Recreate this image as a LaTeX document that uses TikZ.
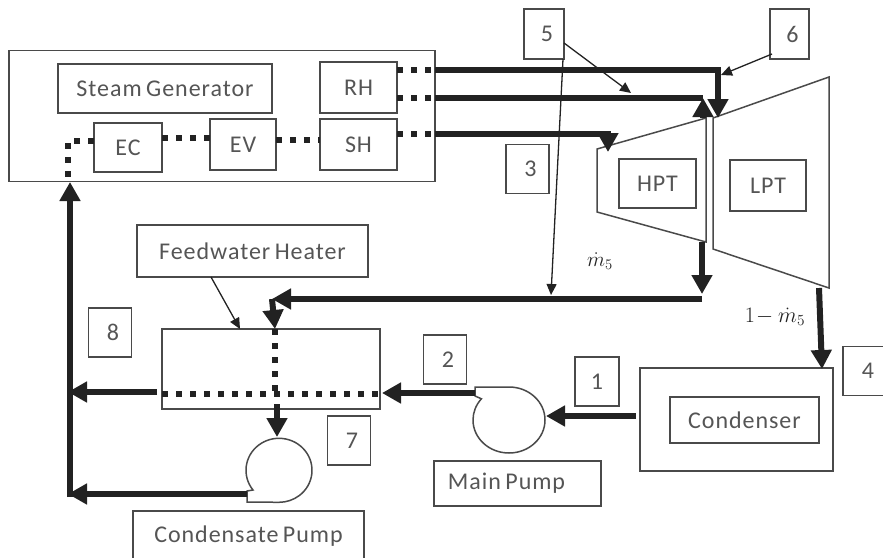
\documentclass[tikz,border=0pt]{standalone}
\usepackage{amsmath}
\usepackage{fix-cm}
\usepackage{fontspec}
\setmainfont[LetterSpace=4,WordSpace=0.7]{Carlito}
\usetikzlibrary{arrows.meta,positioning,calc}
\definecolor{partgray}{HTML}{4A4A4A}
\definecolor{textgray}{HTML}{555555}
\definecolor{pipeblack}{HTML}{222222}
\tikzset{
  part/.style={draw=partgray, line width=1.5pt},
  box/.style={part, fill=white, inner sep=0pt, outer sep=0pt, text=textgray, font=\fontsize{24}{26}\selectfont},
  tag/.style={box, minimum width=43pt, minimum height=49pt, execute at begin node={\hspace*{6pt}}},
  pipe/.style={draw=pipeblack, line width=6pt},
  flow/.style={pipe, -{Triangle[length=19pt,width=20pt]}},
  water/.style={draw=pipeblack, line width=6pt, dash pattern=on 6pt off 8pt},
  note/.style={draw=pipeblack, line width=1.3pt, -{Triangle[length=11pt,width=10pt]}}
}
\begin{document}
\begin{tikzpicture}[x=1pt, y=-1pt]
\useasboundingbox (0,0) rectangle (883,557);
\node[box, minimum width=426pt, minimum height=131pt] (boiler) at (222,116) {};
\node[box, minimum width=214pt, minimum height=49pt] (sg) at (165,88.5) {Steam Generator};
\node[box, minimum width=77pt, minimum height=51pt] (rh) at (358.5,87.5) {RH};
\node[box, minimum width=77pt, minimum height=51pt] (sh) at (358.5,144.5) {SH};
\node[box, minimum width=66pt, minimum height=51pt] (ev) at (243,144.5) {EV};
\node[box, minimum width=68pt, minimum height=49pt] (ec) at (128,147.5) {EC};
\draw[part] (597,149) -- (706,118) -- (706,242) -- (597,212) -- cycle;
\draw[part] (713,118) -- (829,77) -- (829,288) -- (713,249) -- cycle;
\node[box, minimum width=77pt, minimum height=49pt] (hpt) at (657.5,183.5) {HPT};
\node[box, minimum width=76pt, minimum height=51pt] (lpt) at (768,185.5) {LPT};
\node[box, minimum width=231pt, minimum height=52pt] (fwlabel) at (252.5,251) {Feedwater Heater};
\node[box, minimum width=218pt, minimum height=80pt] (heater) at (271,369) {};
\node[box, minimum width=193pt, minimum height=103pt] (cond) at (736.5,419.5) {};
\node[box, minimum width=149pt, minimum height=46pt] (condlabel) at (744.5,420) {Condenser};
\node[box, minimum width=167pt, minimum height=45pt] (mplabel) at (517.5,483.5) {\hspace*{-22pt}Main Pump};
\node[box, minimum width=231pt, minimum height=50pt] (cplabel) at (248.5,536) {Condensate Pump};
\node[tag, minimum width=44pt] (n1) at (597,381.5) {\hspace*{-6pt}1};
\node[tag] (n2) at (445,359.5) {2};
\node[tag] (n3) at (527.5,169) {3};
\node[tag, minimum width=44pt] (n4) at (865,371) {4};
\node[tag, minimum width=40pt, minimum height=50pt] (n5) at (544,34) {5};
\node[tag, minimum width=39pt, minimum height=50pt] (n6) at (789.5,34) {6};
\node[tag, minimum height=49pt] (n7) at (349,440.5) {7};
\node[tag] (n8) at (110,332.5) {8};
\node[text=pipeblack, inner sep=0pt, font=\fontsize{21}{23}\selectfont] (mfive) at (600,261) {$\dot m_5$};
\node[text=pipeblack, inner sep=0pt, font=\fontsize{22}{24}\selectfont] (mrest) at (775,317) {$1\!-\dot m_5$};
\draw[part, fill=white] (475,387) -- (509,387) arc[start angle=90, end angle=-220, x radius=36pt, y radius=33pt] -- (475,396) -- cycle;
\draw[part, fill=white] (247,491) -- (253,490) arc[start angle=218, end angle=-90, x radius=33pt, y radius=32pt] -- (247,502) -- cycle;
\coordinate (rhtop) at (397,70);
\coordinate (rhlow) at (397,98);
\coordinate (shout) at (397,134);
\coordinate (walltop) at (435,70);
\coordinate (walllow) at (435,98);
\coordinate (wallsh) at (435,134);
\coordinate (lptturn) at (718,70);
\coordinate (lptin) at (718,118);
\coordinate (hptturn) at (703,98);
\coordinate (hptfoot) at (703,118);
\coordinate (shturn) at (608,134);
\coordinate (hptin) at (608,152);
\coordinate (bleed) at (702,242);
\coordinate (bleedend) at (702,294);
\coordinate (bleedcorner) at (702,299);
\coordinate (fwhin) at (272,299);
\coordinate (fwhtop) at (275,329);
\coordinate (fwhmid) at (275,394);
\coordinate (fwhleft) at (162,394);
\coordinate (fwhright) at (380,394);
\coordinate (lptout) at (819,288);
\coordinate (condin) at (822,369);
\coordinate (condout) at (636,416);
\coordinate (mpin) at (546,416);
\coordinate (mpout) at (475,393);
\coordinate (fwhin2) at (382,393);
\coordinate (fwhout) at (157,392);
\coordinate (maintee) at (68,392);
\coordinate (cpin) at (277,437);
\coordinate (fwhdrop) at (277,404);
\coordinate (cpout) at (247,494);
\coordinate (cptee) at (68,494);
\coordinate (mainfoot) at (70,497);
\coordinate (boilerin) at (70,182);
\coordinate (ecbend) at (68,141);
\coordinate (ecin) at (94,141);
\draw[water] (rhtop) -- (walltop);
\draw[water] (rhlow) -- (walllow);
\draw[water] (shout) -- (wallsh);
\draw[water] (ec.east |- 0,138) -- (ev.west |- 0,138);
\draw[water] (ev.east |- 0,140) -- (sh.west |- 0,140);
\draw[water] (ecin) -- (ecbend) -- (ecbend |- boilerin);
\draw[water] (fwhleft) -- (fwhright);
\draw[water] (fwhtop) -- (fwhmid);
\draw[pipe] (walltop) -- (lptturn);
\draw[flow] (lptturn) ++(0,-3) -- (lptin);
\draw[pipe] (walllow) -- (hptturn);
\draw[flow] (hptfoot) -- (hptturn);
\draw[pipe] (wallsh) -- (shturn);
\draw[flow] (shturn) ++(0,-3) -- (hptin);
\draw[flow] (bleed) -- (bleedend);
\draw[flow] (bleedcorner) -- (fwhin);
\draw[flow] (fwhin) -- (fwhtop);
\draw[flow] (lptout) -- (condin);
\draw[flow] (condout) -- (mpin);
\draw[flow] (mpout) -- (fwhin2);
\draw[flow] (fwhout) -- (maintee);
\draw[flow] (fwhdrop) -- (cpin);
\draw[flow] (cpout) -- (cptee);
\draw[flow] (mainfoot) -- (boilerin);
\draw[note] (n5.east |- 0,43) -- (631,93);
\draw[note] (563,59) -- (551,295);
\draw[note] (772,54) -- (721,75);
\draw[note] (211,277) -- (240,329);
\end{tikzpicture}
\end{document}
